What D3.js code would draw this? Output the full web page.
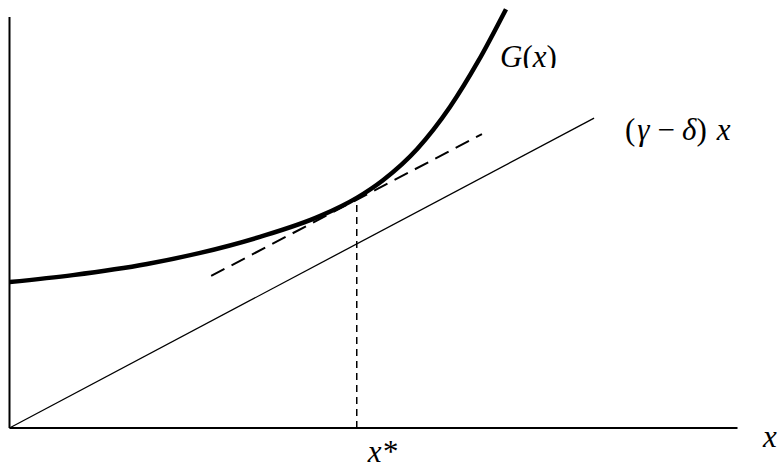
<!DOCTYPE html>
<html>
<head>
<meta charset="utf-8">
<script src="https://cdn.jsdelivr.net/npm/d3@7"></script>
<style>
  html, body { margin: 0; padding: 0; background: #fff; }
  svg { display: block; }
  text { fill: #000; }
</style>
</head>
<body>
<svg id="chart" width="781" height="468"></svg>
<script>
// ---- data (abstract units) ----
const gX = [0, 0.87, 1.89, 2.62, 3.44, 4.27, 4.77, 5.13, 5.60, 6.05, 6.44, 6.82];
const gY = [3.55, 3.72, 3.99, 4.26, 4.65, 5.16, 5.60, 6.03, 6.79, 7.81, 8.93, 10.19];

const rayX = [0, 8.03];          // (gamma - delta) x
const raySlope = 0.939;

const tangentX = [2.77, 6.49];   // dashed tangent at x*
const tangentY = [3.70, 7.15];

const xStar = 4.77;
const gAtStar = 5.60;

const xDomain = [0, 10];
const yDomain = [0, 10];

const FONT = '"Liberation Serif", "Times New Roman", Tinos, "Nimbus Roman", "DejaVu Serif", serif';

// ---- scales ----
const svg = d3.select('#chart');
const x = d3.scaleLinear().domain(xDomain).range([9.5, 737.5]);
const y = d3.scaleLinear().domain(yDomain).range([428, 17]);

const line = d3.line().x(d => x(d[0])).y(d => y(d[1]));

// axes (bare lines, no ticks)
svg.append('line')
  .attr('x1', x(0)).attr('x2', x(0))
  .attr('y1', y(0)).attr('y2', y(yDomain[1]))
  .attr('stroke', '#000').attr('stroke-width', 2);
svg.append('line')
  .attr('x1', x(0)).attr('x2', x(xDomain[1]))
  .attr('y1', y(0)).attr('y2', y(0))
  .attr('stroke', '#000').attr('stroke-width', 2);

// straight ray
svg.append('path')
  .attr('d', line(rayX.map(v => [v, raySlope * v])))
  .attr('fill', 'none').attr('stroke', '#000').attr('stroke-width', 1.3);

// vertical dashed at x*
svg.append('line')
  .attr('x1', x(xStar)).attr('x2', x(xStar))
  .attr('y1', y(0)).attr('y2', y(gAtStar))
  .attr('stroke', '#000').attr('stroke-width', 1.5)
  .attr('stroke-dasharray', '7,5');

// tangent
svg.append('path')
  .attr('d', line(tangentX.map((v, i) => [v, tangentY[i]])))
  .attr('fill', 'none').attr('stroke', '#000').attr('stroke-width', 2)
  .attr('stroke-dasharray', '15,8');

// G(x) curve
svg.append('path')
  .attr('d', d3.line().x(d => x(d[0])).y(d => y(d[1])).curve(d3.curveMonotoneX)(gX.map((v, i) => [v, gY[i]])))
  .attr('fill', 'none').attr('stroke', '#000').attr('stroke-width', 4.5);

// ---- labels ----
const fs = 31;

// G(x), bottom cut off like in the original
svg.append('clipPath').attr('id', 'gclip')
  .append('rect').attr('x', 0).attr('y', 0).attr('width', 781).attr('height', 68);
const gLab = svg.append('text')
  .attr('x', 500).attr('y', 67).attr('font-size', fs).attr('font-family', FONT)
  .attr('clip-path', 'url(#gclip)');
gLab.append('tspan').attr('font-style', 'italic').text('G');
gLab.append('tspan').text('(');
gLab.append('tspan').attr('font-style', 'italic').text('x');
gLab.append('tspan').text(')');

const rLab = svg.append('text')
  .attr('x', 625).attr('y', 140).attr('font-size', fs).attr('font-family', FONT);
rLab.append('tspan').text('(');
rLab.append('tspan').attr('font-style', 'italic').attr('dx', 2).text('γ');
rLab.append('tspan').attr('dx', 8).text('−');
rLab.append('tspan').attr('font-style', 'italic').attr('dx', 7).text('δ');
rLab.append('tspan').text(')');
rLab.append('tspan').attr('font-style', 'italic').attr('dx', 10).text('x');

svg.append('text')
  .attr('x', x(xStar) + 11).attr('y', 462).attr('font-size', fs).attr('font-family', FONT)
  .attr('font-style', 'italic').text('x*');

svg.append('text')
  .attr('x', 763).attr('y', 447).attr('font-size', fs).attr('font-family', FONT)
  .attr('font-style', 'italic').text('x');
</script>
</body>
</html>
